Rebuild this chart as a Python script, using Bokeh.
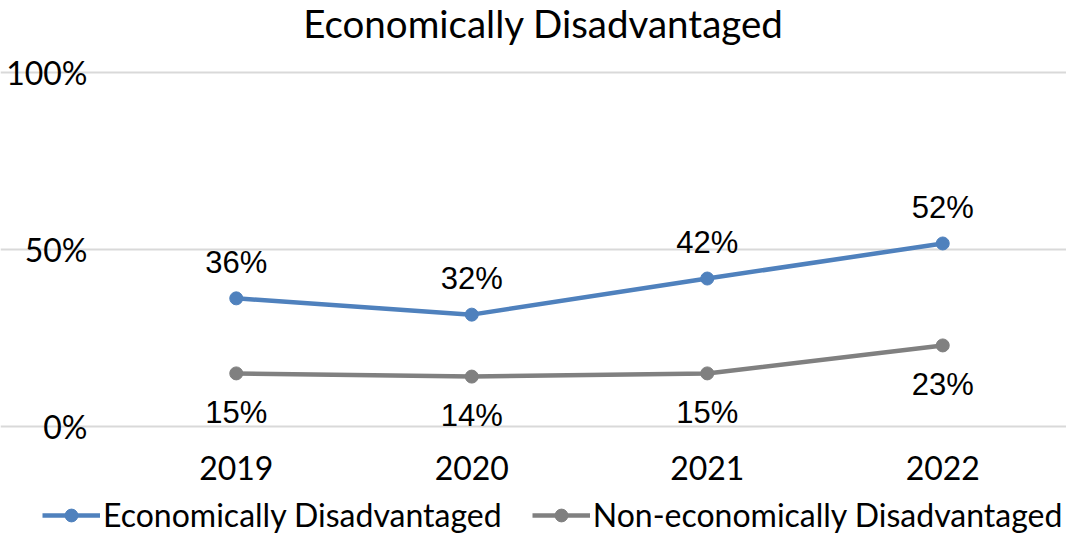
from bokeh.plotting import figure
from bokeh.models import Range1d, Legend, LegendItem, ColumnDataSource, FixedTicker, Label
from bokeh.core.properties import value
from bokeh.embed import file_html
from bokeh.resources import INLINE

years = ["2019", "2020", "2021", "2022"]
econ = [36.2, 31.6, 41.8, 51.7]
non_econ = [15.0, 14.1, 15.0, 22.9]
econ_labels = ["36%", "32%", "42%", "52%"]
non_econ_labels = ["15%", "14%", "15%", "23%"]
y_ticks = [0, 50, 100]
y_tick_labels = ["0%", "50%", "100%"]
series_names = ["Economically Disadvantaged", "Non-economically Disadvantaged"]
chart_title = "Economically Disadvantaged"

BLUE = "#4F81BD"
GRAY = "#808080"
FONT = "Lato"
W, H = 1066, 533
# plot area in page pixels
PL, PR, PT, PB = 118, 1060, 72, 426

n = len(years)
ux = (PR - PL) / n          # pixels per category
uy = (PB - PT) / 100.0      # pixels per percent
x_range = Range1d(-PL / ux, (W - PL) / ux)
y_range = Range1d(-(H - PB) / uy, PB / uy)

xs = [i + 0.5 for i in range(n)]
src = ColumnDataSource(dict(x=xs, econ=econ, non=non_econ, el=econ_labels, nl=non_econ_labels))

p = figure(width=W, height=H, x_range=x_range, y_range=y_range,
           output_backend="svg", toolbar_location=None,
           min_border_left=0, min_border_right=0, min_border_top=0, min_border_bottom=0)
p.outline_line_color = None
p.background_fill_color = "white"
p.border_fill_color = "white"

p.xaxis.ticker = FixedTicker(ticks=xs)
p.xaxis.major_label_overrides = {x: y for x, y in zip(xs, years)}
p.xaxis.fixed_location = 0
p.yaxis.ticker = FixedTicker(ticks=y_ticks)
p.yaxis.major_label_overrides = {tk: lb for tk, lb in zip(y_ticks, y_tick_labels)}
p.yaxis.fixed_location = 0
for ax in (p.xaxis, p.yaxis):
    ax.axis_line_color = None
    ax.major_tick_line_color = None
    ax.minor_tick_line_color = None
    ax.major_tick_out = 0
    ax.major_tick_in = 0
    ax.major_label_text_font = FONT
    ax.major_label_text_font_size = "32px"
    ax.major_label_text_color = "black"
p.yaxis.major_label_standoff = 31
p.xaxis.major_label_standoff = 29

p.xgrid.grid_line_color = None
p.ygrid.ticker = FixedTicker(ticks=y_ticks)
p.ygrid.bounds = (0, n)
p.ygrid.grid_line_color = "#D9D9D9"
p.ygrid.grid_line_width = 2

l1 = p.line("x", "econ", source=src, line_color=BLUE, line_width=4.5)
s1 = p.scatter("x", "econ", source=src, size=13, fill_color=BLUE, line_color=BLUE)
l2 = p.line("x", "non", source=src, line_color=GRAY, line_width=4.5)
s2 = p.scatter("x", "non", source=src, size=13, fill_color=GRAY, line_color=GRAY)

p.text("x", "econ", text="el", source=src, y_offset=-36, text_align="center", text_baseline="middle",
       text_font=value("Liberation Sans"), text_font_size="31px", text_color="black")
p.text("x", "non", text="nl", source=src, y_offset=39, text_align="center", text_baseline="middle",
       text_font=value("Liberation Sans"), text_font_size="31px", text_color="black")

title = Label(x=(W / 2 + 10 - PL) / ux, y=(PB - 22) / uy, text=chart_title,
              text_align="center", text_baseline="middle",
              text_font=FONT, text_font_size="38.5px", text_color="black")
p.add_layout(title)

legend = Legend(items=[LegendItem(label=series_names[0], renderers=[l1, s1]),
                       LegendItem(label=series_names[1], renderers=[l2, s2])],
                orientation="horizontal", location=(42, -1),
                glyph_width=58, glyph_height=32, label_standoff=3, spacing=30,
                padding=0, margin=0, border_line_color=None, background_fill_alpha=0,
                label_text_font=FONT, label_text_font_size="32px", label_text_color="black",
                label_height=32, label_text_baseline="middle")
p.add_layout(legend, "center")

open("out.html", "w").write(file_html(p, INLINE))
